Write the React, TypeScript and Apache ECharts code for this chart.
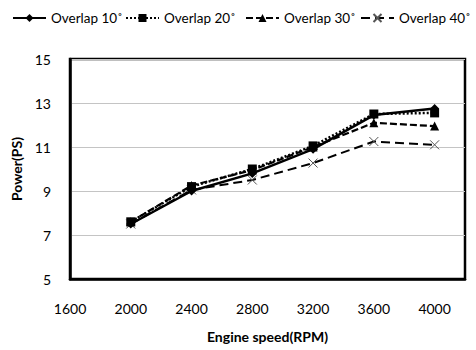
import React, { useEffect, useRef } from "react";
import * as echarts from "echarts";

const speeds = [2000, 2400, 2800, 3200, 3600, 4000];
const overlap10 = [7.5, 9.0, 9.8, 10.9, 12.45, 12.75];
const overlap20 = [7.6, 9.2, 10.0, 11.05, 12.5, 12.55];
const overlap30 = [7.6, 9.25, 9.95, 11.0, 12.1, 11.95];
const overlap40 = [7.5, 9.05, 9.5, 10.27, 11.25, 11.1];
const seriesNames = ["Overlap 10˚", "Overlap 20˚", "Overlap 30˚", "Overlap 40˚"];

const FONT = "Lato";

export default function App() {
  const ref = useRef<HTMLDivElement>(null);
  useEffect(() => {
    document.body.style.margin = "0";
    if (!ref.current) return;
    const chart = echarts.init(ref.current, null, { renderer: "svg" });
    const pair = (arr: number[]) => speeds.map((s, i) => [s, arr[i]]);
    const xPath = "path://M0,0L10,10M10,0L0,10";
    const legendLefts = [12, 125, 245, 360];
    chart.setOption({
      animation: false,
      textStyle: { fontFamily: FONT },
      legend: seriesNames.map((n, i) => ({
        left: legendLefts[i],
        top: 11,
        padding: 0,
        itemWidth: 33,
        itemHeight: 10,
        textStyle: { fontSize: 13.5, color: "#000", fontFamily: FONT },
        data: [n],
      })),
      grid: {
        left: 70,
        right: 11,
        top: 59,
        bottom: 71,
        show: true,
        borderColor: "#000",
        borderWidth: 2.5,
        backgroundColor: "transparent",
      },
      xAxis: {
        type: "value",
        min: 1600,
        max: 4200,
        interval: 400,
        name: "Engine speed(RPM)",
        nameLocation: "middle",
        nameGap: 50,
        nameTextStyle: { fontWeight: "bold", fontSize: 14, color: "#000", fontFamily: FONT },
        axisLine: { show: true, lineStyle: { color: "#000", width: 2.5 } },
        axisTick: { show: false },
        splitLine: { show: false },
        axisLabel: {
          fontSize: 14,
          color: "#000",
          margin: 22,
          showMaxLabel: false,
          fontFamily: FONT,
          formatter: (v: number) => String(v),
        },
      },
      yAxis: {
        type: "value",
        min: 5,
        max: 15,
        interval: 2,
        name: "Power(PS)",
        nameLocation: "middle",
        nameGap: 46,
        nameRotate: 90,
        nameTextStyle: { fontWeight: "bold", fontSize: 14, color: "#000", fontFamily: FONT },
        axisLine: { show: true, lineStyle: { color: "#000", width: 2.5 } },
        axisTick: { show: false },
        splitLine: { show: true, lineStyle: { color: "#c4c4c4", width: 1 } },
        axisLabel: { fontSize: 14, color: "#000", margin: 19, fontFamily: FONT },
      },
      series: [
        {
          name: seriesNames[0],
          type: "line",
          data: pair(overlap10),
          symbol: "diamond",
          symbolSize: 9,
          lineStyle: { color: "#000", width: 2.5, type: "solid" },
          itemStyle: { color: "#000" },
          z: 5,
        },
        {
          name: seriesNames[1],
          type: "line",
          data: pair(overlap20),
          symbol: "rect",
          symbolSize: 9,
          lineStyle: { color: "#000", width: 2.5, type: [2, 2] },
          itemStyle: { color: "#000" },
          z: 4,
        },
        {
          name: seriesNames[2],
          type: "line",
          data: pair(overlap30),
          symbol: "triangle",
          symbolSize: 9,
          lineStyle: { color: "#000", width: 2.2, type: [7, 3] },
          itemStyle: { color: "#000" },
          z: 3,
        },
        {
          name: seriesNames[3],
          type: "line",
          data: pair(overlap40),
          symbol: xPath,
          symbolSize: 9,
          lineStyle: { color: "#000", width: 2, type: [9, 5] },
          itemStyle: { color: "transparent", borderColor: "#555", borderWidth: 1 },
          z: 2,
        },
      ],
    });
    return () => chart.dispose();
  }, []);
  return <div ref={ref} style={{ width: 476, height: 350 }} />;
}
